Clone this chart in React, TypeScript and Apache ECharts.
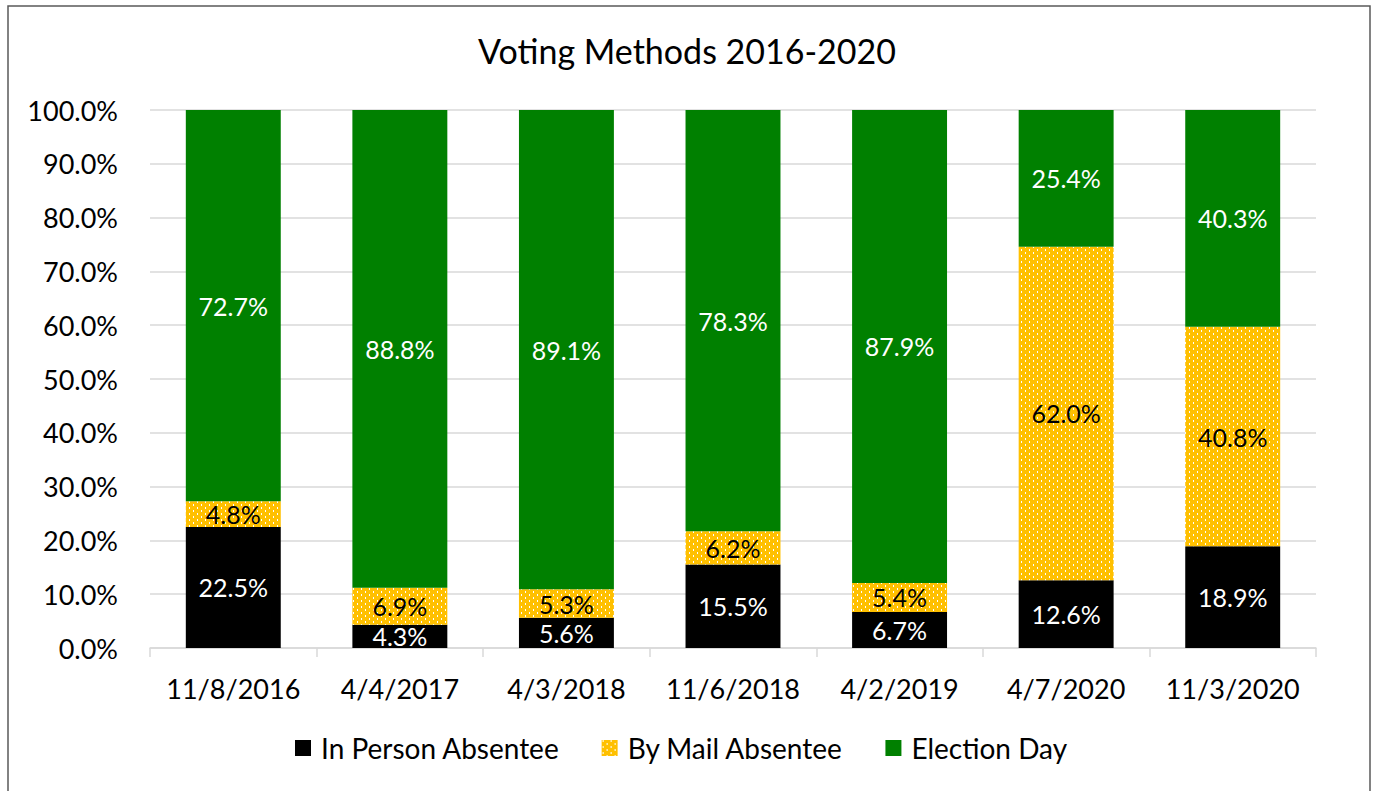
import React, { useEffect, useRef } from "react";
import * as echarts from "echarts";

const categories = ["11/8/2016", "4/4/2017", "4/3/2018", "11/6/2018", "4/2/2019", "4/7/2020", "11/3/2020"];
const inPerson = [22.5, 4.3, 5.6, 15.5, 6.7, 12.6, 18.9];
const byMail = [4.8, 6.9, 5.3, 6.2, 5.4, 62.0, 40.8];
const electionDay = [72.7, 88.8, 89.1, 78.3, 87.9, 25.4, 40.3];
const yTicks = [0, 10, 20, 30, 40, 50, 60, 70, 80, 90, 100];

const FONT = "Lato";

function makePattern(): HTMLCanvasElement {
  const c = document.createElement("canvas");
  c.width = 8;
  c.height = 6;
  const ctx = c.getContext("2d")!;
  ctx.fillStyle = "#FFC000";
  ctx.fillRect(0, 0, 8, 6);
  ctx.fillStyle = "#FFFFFF";
  ctx.fillRect(1, 0, 1, 2);
  ctx.fillRect(5, 3, 1, 2);
  return c;
}

export default function App() {
  const ref = useRef<HTMLDivElement>(null);
  useEffect(() => {
    if (!ref.current) return;
    const chart = echarts.init(ref.current, undefined, { renderer: "svg" });
    const pattern = { image: makePattern(), repeat: "repeat" as const };
    const fmt = (p: any) => Number(p.value).toFixed(1) + "%";
    const labelBase = { show: true, position: "inside" as const, fontFamily: FONT, fontSize: 25, formatter: fmt };
    chart.setOption({
      animation: false,
      title: {
        text: "Voting Methods 2016-2020",
        left: "center",
        top: 28,
        textStyle: { fontFamily: FONT, fontSize: 34, fontWeight: "normal", color: "#000" },
      },
      graphic: [
        {
          type: "rect",
          shape: { x: 8, y: 6, width: 1362, height: 800 },
          style: { fill: "none", stroke: "#595959", lineWidth: 1.5 },
          silent: true,
        },
      ],
      legend: {
        bottom: 24,
        left: 290,
        icon: "rect",
        itemWidth: 16,
        itemHeight: 16,
        itemGap: 42,
        textStyle: { fontFamily: FONT, fontSize: 28, color: "#000", padding: [0, 0, 0, 5] },
        data: ["In Person Absentee", "By Mail Absentee", "Election Day"],
      },
      grid: { left: 150, right: 58, top: 110, bottom: 143 },
      xAxis: {
        type: "category",
        data: categories,
        axisLine: { lineStyle: { color: "#d9d9d9", width: 1.5 } },
        axisTick: { show: true, length: 9, lineStyle: { color: "#d9d9d9", width: 1.5 } },
        axisLabel: { interval: 0, fontFamily: FONT, fontSize: 27, color: "#000", margin: 27 },
      },
      yAxis: {
        type: "value",
        min: yTicks[0],
        max: yTicks[yTicks.length - 1],
        interval: 10,
        axisLine: { show: false },
        axisTick: { show: false },
        splitLine: { lineStyle: { color: "#d9d9d9", width: 1.5 } },
        axisLabel: {
          fontFamily: FONT,
          fontSize: 27,
          color: "#000",
          margin: 32,
          formatter: (v: number) => v.toFixed(1) + "%",
        },
      },
      series: [
        {
          name: "In Person Absentee",
          type: "bar",
          stack: "total",
          barWidth: "57%",
          data: inPerson,
          itemStyle: { color: "#000000" },
          label: { ...labelBase, color: "#fff" },
        },
        {
          name: "By Mail Absentee",
          type: "bar",
          stack: "total",
          data: byMail,
          itemStyle: { color: pattern },
          label: { ...labelBase, color: "#000" },
        },
        {
          name: "Election Day",
          type: "bar",
          stack: "total",
          data: electionDay,
          itemStyle: { color: "#008000" },
          label: { ...labelBase, color: "#fff" },
        },
      ],
    });
    return () => chart.dispose();
  }, []);
  return (
    <div
      ref={ref}
      style={{ position: "fixed", left: 0, top: 0, width: 1374, height: 791, background: "#fff" }}
    />
  );
}
